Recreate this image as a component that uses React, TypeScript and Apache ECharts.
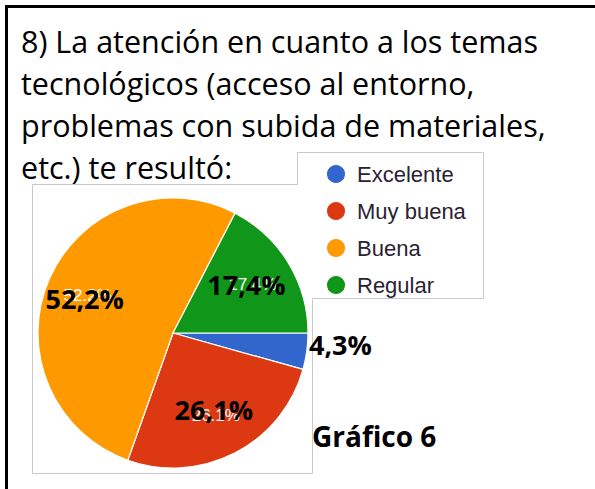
import React, { useEffect, useRef } from "react";
import * as echarts from "echarts";

const titleLines = [
  "8) La atención en cuanto a los temas",
  "tecnológicos (acceso al entorno,",
  "problemas con subida de materiales,",
  "etc.) te resultó:",
];
const categories = ["Excelente", "Muy buena", "Buena", "Regular"];
const counts = [1, 6, 12, 4];
const sliceColors = ["#3366cc", "#dc3912", "#ff9900", "#109618"];
const figureLabel = "Gráfico 6";

const BIG_FONT = "'Open Sans', Lato, sans-serif";

export default function App() {
  const ref = useRef<HTMLDivElement>(null);
  useEffect(() => {
    if (!ref.current) return;
    const chart = echarts.init(ref.current, undefined, { renderer: "svg" });
    const total = counts.reduce((a, b) => a + b, 0);
    const pct = (v: number) => ((v / total) * 100).toFixed(1);
    const center = [173, 333];
    const visData = categories.map((n, i) => ({
      name: n,
      value: counts[i],
      itemStyle: { color: sliceColors[i] },
    }));
    const ghost = (showIdx: (i: number) => boolean) =>
      categories.map((n, i) => ({
        name: n,
        value: counts[i],
        label: { show: showIdx(i) },
      }));
    const ghostBase = {
      type: "pie",
      center,
      startAngle: 0,
      clockwise: true,
      silent: true,
      avoidLabelOverlap: false,
      itemStyle: { color: "transparent" },
      labelLine: { show: false },
    };
    const blackShift: Record<number, [number, number]> = {
      1: [-2, -6],
      2: [-3, 3],
      3: [-6, 0],
    };
    chart.setOption({
      animation: false,
      backgroundColor: "#ffffff",
      title: {
        text: titleLines.join("\n"),
        left: 16,
        top: 15,
        textStyle: {
          fontFamily: BIG_FONT,
          fontWeight: "normal",
          fontSize: 30.5,
          lineHeight: 42,
          color: "#000",
        },
      },
      legend: {
        data: categories,
        orient: "vertical",
        left: 320,
        top: 158,
        itemWidth: 20,
        itemHeight: 20,
        itemGap: 15,
        icon: "circle",
        selectedMode: false,
        textStyle: {
          fontFamily: "Liberation Sans, Arial, sans-serif",
          fontSize: 22,
          color: "#2a2233",
          padding: [0, 0, 0, 6],
        },
      },
      graphic: [
        {
          type: "rect",
          shape: { x: 6.5, y: 6.5, width: 620, height: 520 },
          style: { fill: "none", stroke: "#000", lineWidth: 3 },
          z: 100,
        },
        {
          type: "polyline",
          shape: {
            points: [
              [32.5, 184.5],
              [297.5, 184.5],
              [297.5, 152.5],
              [483.5, 152.5],
              [483.5, 298.5],
              [312.5, 298.5],
              [312.5, 473.5],
              [32.5, 473.5],
              [32.5, 184.5],
            ],
          },
          style: { fill: "none", stroke: "#c9c9c9", lineWidth: 1 },
          z: -1,
        },
        {
          type: "text",
          x: 312,
          y: 436,
          style: {
            text: figureLabel,
            fontFamily: BIG_FONT,
            fontWeight: "bold",
            fontSize: 28,
            fill: "#000",
            textVerticalAlign: "middle",
          },
        },
      ],
      series: [
        {
          type: "pie",
          center,
          radius: 135,
          startAngle: 0,
          clockwise: true,
          silent: true,
          label: { show: false },
          labelLine: { show: false },
          itemStyle: { borderColor: "#ffffff", borderWidth: 1.2 },
          data: visData,
        },
        {
          ...ghostBase,
          radius: 180,
          labelLayout: { hideOverlap: false },
          label: {
            show: true,
            position: "inside",
            color: "#ffffff",
            fontFamily: "Liberation Sans, Arial, sans-serif",
            fontSize: 17,
            formatter: (p: any) => pct(p.value) + "%",
          },
          data: ghost((i) => i !== 0),
        },
        {
          ...ghostBase,
          radius: 180,
          labelLayout: (p: any) => {
            const s = blackShift[p.dataIndex] || [0, 0];
            return { hideOverlap: false, dx: s[0], dy: s[1] };
          },
          label: {
            show: true,
            position: "inside",
            color: "#000000",
            fontFamily: BIG_FONT,
            fontWeight: "bold",
            fontSize: 27,
            formatter: (p: any) => pct(p.value).replace(".", ",") + "%",
          },
          data: ghost((i) => i !== 0),
        },
        {
          ...ghostBase,
          radius: 336,
          labelLayout: { hideOverlap: false, dx: -2, dy: -12 },
          label: {
            show: true,
            position: "inside",
            color: "#000000",
            fontFamily: BIG_FONT,
            fontWeight: "bold",
            fontSize: 27,
            formatter: (p: any) => pct(p.value).replace(".", ",") + "%",
          },
          data: ghost((i) => i === 0),
        },
      ],
    });
    return () => chart.dispose();
  }, []);
  return (
    <div
      ref={ref}
      style={{
        position: "absolute",
        left: 0,
        top: 0,
        width: 595,
        height: 489,
        background: "#fff",
      }}
    />
  );
}
